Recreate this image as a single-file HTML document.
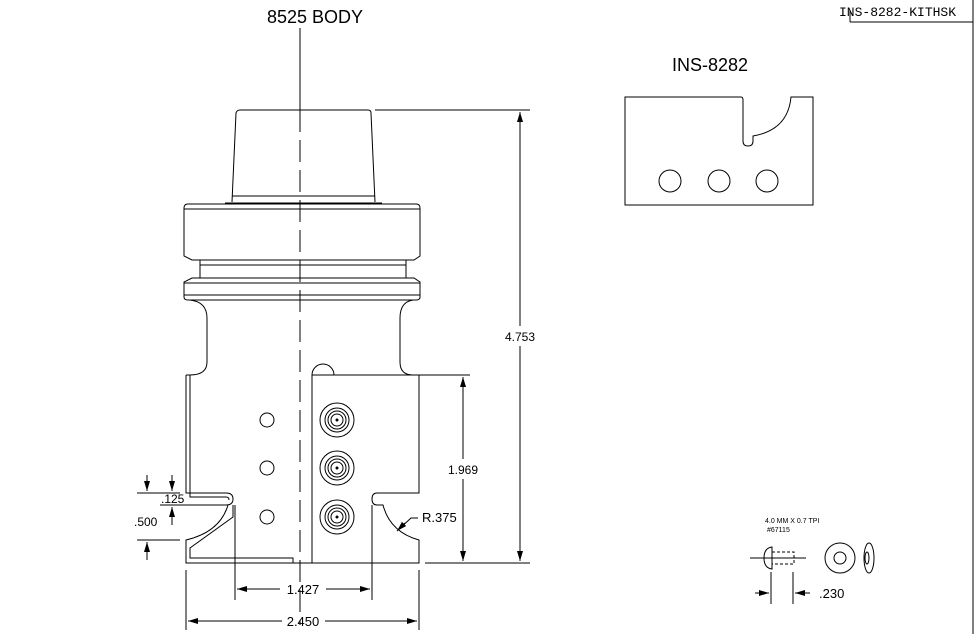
<!DOCTYPE html>
<html><head><meta charset="utf-8"><style>
html,body{margin:0;padding:0;background:#fff;}
svg{display:block;}
text{font-family:"Liberation Sans",sans-serif;}
</style></head><body>
<svg width="976" height="634" viewBox="0 0 976 634" xmlns="http://www.w3.org/2000/svg">
<defs>
<marker id="ar" viewBox="0 0 10 6" refX="10" refY="3" markerWidth="10" markerHeight="6" orient="auto-start-reverse" markerUnits="userSpaceOnUse"><path d="M0,0 L10,3 L0,6 Z" fill="#000"/></marker>
</defs>
<g fill="none" stroke="#000" stroke-width="1">
<line x1="850" y1="22" x2="973" y2="22"/>
<line x1="850" y1="10" x2="850" y2="22"/>
<line x1="973" y1="0" x2="973" y2="634"/>
<line x1="300" y1="28" x2="300" y2="110"/>
<line x1="300" y1="110" x2="300" y2="625" stroke-dasharray="22,8"/>
<path d="M232,202 L236,113 Q237,110 240,110 L368,110 Q371,110 371,113 L375,202"/>
<line x1="232" y1="196" x2="375" y2="196"/>
<line x1="225" y1="203" x2="382" y2="203"/>
<path d="M188,204 L416,204 Q420,204 420,208 L420,256 L414,260 L192,260 L184,256 L184,208 Q184,204 188,204 Z"/>
<line x1="184" y1="209" x2="420" y2="209"/>
<line x1="200" y1="260" x2="200" y2="278"/>
<line x1="406" y1="260" x2="406" y2="278"/>
<line x1="200" y1="265" x2="406" y2="265"/>
<path d="M192,278 L414,278 L420,282 L420,297 Q420,300 416,300 L188,300 Q184,300 184,297 L184,282 Z"/>
<line x1="184" y1="283" x2="420" y2="283"/>
<line x1="184" y1="295" x2="420" y2="295"/>
<path d="M190,300 Q207,302 207,318 L207,362 Q207,375 190,375 L186,375"/>
<path d="M413,300 Q400,302 400,318 L400,362 Q400,375 413,375 L425,375"/>
<path d="M186,375 L186,493 L226,493 Q233,493 233,499 Q233,505 226,505 L218,505"/>
<path d="M190,375 L190,497 L226,497 Q229,497 229,500"/>
<path d="M228,505 Q220,532 186,540 L186,563 L293,563 L293,558 L190,558 L190,548 L233,517 L233,505"/>
<line x1="235" y1="505" x2="235" y2="600"/>
<path d="M312,563 L312,375 L419,375 L419,493 L377,493 Q372,493 372,499 Q372,505 377,505 L383,505 Q390,532 419,540 L419,563 Z"/>
<path d="M312,375 A11,11 0 0 1 334,375"/>
<line x1="293" y1="563" x2="312" y2="563"/>
<line x1="372" y1="505" x2="372" y2="600"/>
<g><circle cx="337" cy="420" r="17"/><circle cx="337" cy="420" r="12"/><circle cx="337" cy="420" r="9"/><circle cx="337" cy="420" r="6"/><circle cx="337" cy="420" r="1" fill="#000"/></g>
<g><circle cx="337" cy="468" r="17"/><circle cx="337" cy="468" r="12"/><circle cx="337" cy="468" r="9"/><circle cx="337" cy="468" r="6"/><circle cx="337" cy="468" r="1" fill="#000"/></g>
<g><circle cx="337" cy="517" r="17"/><circle cx="337" cy="517" r="12"/><circle cx="337" cy="517" r="9"/><circle cx="337" cy="517" r="6"/><circle cx="337" cy="517" r="1" fill="#000"/></g>
<circle cx="267" cy="420" r="7"/><circle cx="267" cy="468" r="7"/><circle cx="267" cy="517" r="7"/>
<line x1="375" y1="110" x2="530" y2="110"/>
<line x1="425" y1="563" x2="530" y2="563"/>
<line x1="520" y1="326" x2="520" y2="112" marker-end="url(#ar)"/>
<line x1="520" y1="346" x2="520" y2="561" marker-end="url(#ar)"/>
<line x1="425" y1="375" x2="470" y2="375"/>
<line x1="463" y1="459" x2="463" y2="377" marker-end="url(#ar)"/>
<line x1="463" y1="479" x2="463" y2="561" marker-end="url(#ar)"/>
<line x1="186" y1="570" x2="186" y2="630"/>
<line x1="419" y1="570" x2="419" y2="630"/>
<line x1="282" y1="621" x2="188" y2="621" marker-end="url(#ar)"/>
<line x1="325" y1="621" x2="417" y2="621" marker-end="url(#ar)"/>
<line x1="280" y1="589" x2="237" y2="589" marker-end="url(#ar)"/>
<line x1="326" y1="589" x2="370" y2="589" marker-end="url(#ar)"/>
<line x1="137" y1="493" x2="180" y2="493"/>
<line x1="160" y1="505" x2="218" y2="505"/>
<line x1="137" y1="540" x2="180" y2="540"/>
<line x1="147" y1="475" x2="147" y2="491" marker-end="url(#ar)"/>
<line x1="147" y1="560" x2="147" y2="542" marker-end="url(#ar)"/>
<line x1="172" y1="475" x2="172" y2="491" marker-end="url(#ar)"/>
<line x1="172" y1="525" x2="172" y2="507" marker-end="url(#ar)"/>
<polyline points="418,518 411,518 398,530" />
<line x1="405" y1="523" x2="397" y2="531" marker-end="url(#ar)"/>
<path d="M625,97 L741,97 Q743,97 743,100 L743,141 Q743,146 748,146 Q753,146 753,141 L753,136 Q788,130 791,97 L813,97 L813,205 L625,205 Z"/>
<circle cx="670" cy="181" r="11"/><circle cx="719" cy="181" r="11"/><circle cx="767" cy="181" r="11"/>
<line x1="750" y1="558" x2="806" y2="558"/>
<path d="M772,547 Q764,548 764,558 Q764,568 772,569 Z"/>
<rect x="772" y="552" width="22" height="12" stroke-dasharray="3,2"/>
<circle cx="840" cy="558" r="15"/>
<circle cx="840" cy="558" r="6"/>
<ellipse cx="869" cy="558" rx="5" ry="15"/>
<ellipse cx="867" cy="558" rx="2" ry="6"/>
<line x1="771" y1="572" x2="771" y2="604"/>
<line x1="793" y1="572" x2="793" y2="604"/>
<line x1="755" y1="593" x2="769" y2="593" marker-end="url(#ar)"/>
<line x1="810" y1="593" x2="795" y2="593" marker-end="url(#ar)"/>
</g>
<g fill="#000">
<text x="315" y="23" font-size="18" text-anchor="middle">8525 BODY</text>
<text x="710" y="71" font-size="18" text-anchor="middle">INS-8282</text>
<text x="839" y="16" style="font-family:'Liberation Mono',monospace;font-size:13px;">INS-8282-KITHSK</text>
<text x="520" y="341" font-size="12" text-anchor="middle">4.753</text>
<text x="463" y="474" font-size="12" text-anchor="middle">1.969</text>
<text x="303" y="626" font-size="13" text-anchor="middle">2.450</text>
<text x="303" y="594" font-size="13" text-anchor="middle">1.427</text>
<text x="161" y="503" font-size="12">.125</text>
<text x="134" y="526" font-size="12">.500</text>
<text x="422" y="522" font-size="13">R.375</text>
<text x="765" y="523" font-size="7">4.0 MM X 0.7 TPI</text>
<text x="767" y="532" font-size="7">#67115</text>
<text x="819" y="598" font-size="13">.230</text>
</g>
</svg>
</body></html>
